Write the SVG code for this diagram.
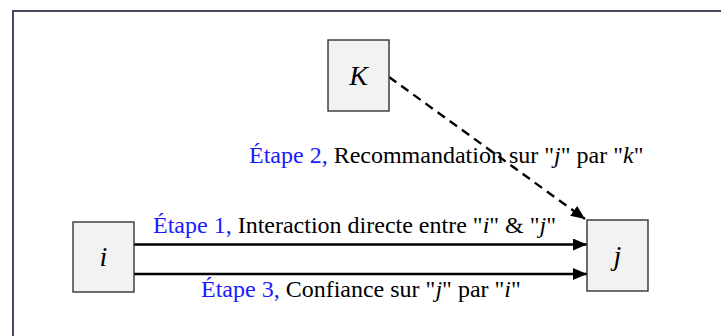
<svg xmlns="http://www.w3.org/2000/svg" width="721" height="336" viewBox="0 0 721 336">
  <defs>
    <marker id="arrow" viewBox="0 0 14 12" refX="14" refY="6" markerWidth="14" markerHeight="12" markerUnits="userSpaceOnUse" orient="auto">
      <path d="M0,0 L14,6 L0,12 Z" fill="#000"/>
    </marker>
    <style>
      .frame { fill: #fff; stroke: #454b5c; stroke-width: 2; }
      .node rect { fill: #f2f2f2; stroke: #333; stroke-width: 1.4; }
      .node text { font-style: italic; font-size: 28px; text-anchor: middle; fill: #000; }
      .edge { stroke: #000; stroke-width: 2.4; fill: none; marker-end: url(#arrow); }
      .dashed { stroke-dasharray: 9 6; }
      .label { font-size: 24px; fill: #000; }
      .step { fill: #1a1aff; }
      .var { font-style: italic; }
    </style>
  </defs>

  <!-- outer frame -->
  <rect class="frame" x="13" y="11" width="720" height="340"/>

  <!-- labels -->
  <g id="labels" font-family="Liberation Serif, DejaVu Serif, serif">
    <text class="label" x="249" y="163"><tspan class="step">Étape 2,</tspan> Recommandation sur "<tspan class="var">j</tspan>" par "<tspan class="var">k</tspan>"</text>
    <text class="label" x="153" y="233"><tspan class="step">Étape 1,</tspan> Interaction directe entre "<tspan class="var">i</tspan>" &amp; "<tspan class="var">j</tspan>"</text>
    <text class="label" x="201" y="297"><tspan class="step">Étape 3,</tspan> Confiance sur "<tspan class="var">j</tspan>" par "<tspan class="var">i</tspan>"</text>
  </g>

  <!-- connectors -->
  <g id="connectors">
    <line class="edge dashed" x1="389" y1="77" x2="585" y2="219"/>
    <line class="edge" x1="134" y1="244.5" x2="587" y2="244.5"/>
    <line class="edge" x1="134" y1="274" x2="587" y2="274"/>
  </g>

  <!-- nodes -->
  <g font-family="Liberation Serif, DejaVu Serif, serif">
    <g id="node-K" class="node">
      <rect x="328" y="40" width="61" height="71"/>
      <text x="358.5" y="85">K</text>
    </g>
    <g id="node-i" class="node">
      <rect x="73" y="222" width="61" height="70"/>
      <text x="103.5" y="266">i</text>
    </g>
    <g id="node-j" class="node">
      <rect x="587" y="220" width="61" height="71"/>
      <text x="617.5" y="265">j</text>
    </g>
  </g>
</svg>
